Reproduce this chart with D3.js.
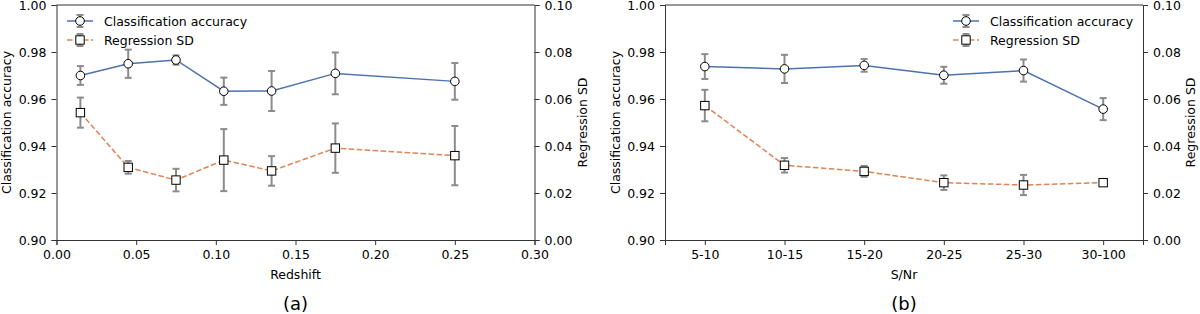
<!DOCTYPE html>
<html>
<head>
<meta charset="utf-8">
<script src="https://cdn.jsdelivr.net/npm/d3@7"></script>
<style>
  body { margin: 0; background: #fff; }
  svg { display: block; font-family: "DejaVu Sans", sans-serif; }
</style>
</head>
<body>
<svg id="chart" width="1200" height="314"></svg>
<script>
// panel (a): redshift bins
var redshift = [0.015, 0.045, 0.075, 0.105, 0.135, 0.175, 0.25]
var accA = [0.970, 0.975, 0.9766, 0.9633, 0.9634, 0.9709, 0.9675]
var accErrA = [0.004, 0.006, 0.002, 0.0058, 0.0085, 0.0089, 0.0078]
var sdA = [0.0542, 0.0309, 0.0255, 0.0340, 0.0294, 0.0391, 0.0359]
var sdErrA = [0.0064, 0.0027, 0.0048, 0.0132, 0.0063, 0.0105, 0.0126]

// panel (b): S/Nr bins
var snr = ["5-10", "10-15", "15-20", "20-25", "25-30", "30-100"]
var accB = [0.9738, 0.9728, 0.9743, 0.9701, 0.9721, 0.9557]
var accErrB = [0.0053, 0.006, 0.0027, 0.0036, 0.0047, 0.0047]
var sdB = [0.0572, 0.0318, 0.0292, 0.0244, 0.0234, 0.0244]
var sdErrB = [0.0067, 0.0031, 0.0023, 0.0031, 0.0043, 0.0005]

var xTicksA = [0, 0.05, 0.10, 0.15, 0.20, 0.25, 0.30]
var yTicks = [0.90, 0.92, 0.94, 0.96, 0.98, 1.00]
var y2Ticks = [0, 0.02, 0.04, 0.06, 0.08, 0.10]

var blue = "#4c72b0", orange = "#dd8452", errCol = "#8c8c8c", axCol = "#333"
var plotTop = 5, plotBottom = 240
var fs = 12.5

var svg = d3.select("#chart")

var panels = [
  {left: 56.5, right: 534.5, xs: redshift, acc: accA, accErr: accErrA, sd: sdA, sdErr: sdErrA,
   xDomain: [0, 0.3], xlabel: "Redshift", caption: "(a)", legendX: 67},
  {left: 665, right: 1143, xs: snr.map((d, i) => i), acc: accB, accErr: accErrB, sd: sdB, sdErr: sdErrB,
   xDomain: [-0.5, 5.5], xlabel: "S/Nr", caption: "(b)", legendX: 953, cats: snr}
]

panels.forEach(p => {
  var g = svg.append("g")
  var x = d3.scaleLinear().domain(p.xDomain).range([p.left, p.right])
  var y = d3.scaleLinear().domain([0.9, 1.0]).range([plotBottom, plotTop])
  var y2 = d3.scaleLinear().domain([0, 0.1]).range([plotBottom, plotTop])

  // axes
  var xAxis = p.cats
    ? d3.axisBottom(x).tickValues(p.xs).tickFormat(i => p.cats[i])
    : d3.axisBottom(x).tickValues(xTicksA).tickFormat(d3.format(".2f"))
  var axes = [
    g.append("g").attr("transform", `translate(0,${plotBottom})`).call(xAxis.tickSizeOuter(0).tickSize(5).tickPadding(5)),
    g.append("g").attr("transform", `translate(${p.left},0)`)
      .call(d3.axisLeft(y).tickValues(yTicks).tickFormat(d3.format(".2f")).tickSizeOuter(0).tickSize(5).tickPadding(5)),
    g.append("g").attr("transform", `translate(${p.right},0)`)
      .call(d3.axisRight(y2).tickValues(y2Ticks).tickFormat(d3.format(".2f")).tickSizeOuter(0).tickSize(5).tickPadding(5))
  ]
  axes.forEach(a => {
    a.selectAll("text").attr("font-size", fs).attr("fill", "#000").attr("font-family", "DejaVu Sans")
    a.selectAll("line").attr("stroke", axCol)
    a.select(".domain").attr("stroke", axCol)
  })
  // top spine
  g.append("line").attr("x1", p.left).attr("x2", p.right).attr("y1", plotTop).attr("y2", plotTop)
    .attr("stroke", axCol)

  // labels
  g.append("text").attr("x", (p.left + p.right) / 2).attr("y", 278.5)
    .attr("text-anchor", "middle").attr("font-size", fs).text(p.xlabel)
  g.append("text").attr("transform", `translate(${p.left - 45.5},${(plotTop + plotBottom) / 2}) rotate(-90)`)
    .attr("text-anchor", "middle").attr("font-size", fs).text("Classification accuracy")
  g.append("text").attr("transform", `translate(${p.right + 52},${(plotTop + plotBottom) / 2}) rotate(-90)`)
    .attr("text-anchor", "middle").attr("font-size", fs).text("Regression SD")
  g.append("text").attr("x", (p.left + p.right) / 2).attr("y", 310)
    .attr("text-anchor", "middle").attr("font-size", 18).text(p.caption)

  var series = [
    {vals: p.acc, errs: p.accErr, sc: y, color: blue, dash: null, shape: "circle"},
    {vals: p.sd, errs: p.sdErr, sc: y2, color: orange, dash: "5.5,2.5", shape: "square"}
  ]

  series.forEach(s => {
    // error bars
    var eb = g.append("g").attr("stroke", errCol).attr("stroke-width", 2)
    p.xs.forEach((xv, i) => {
      var cx = x(xv), y0 = s.sc(s.vals[i] - s.errs[i]), y1 = s.sc(s.vals[i] + s.errs[i])
      eb.append("line").attr("x1", cx).attr("x2", cx).attr("y1", y0).attr("y2", y1)
      eb.append("line").attr("x1", cx - 3.5).attr("x2", cx + 3.5).attr("y1", y0).attr("y2", y0)
      eb.append("line").attr("x1", cx - 3.5).attr("x2", cx + 3.5).attr("y1", y1).attr("y2", y1)
    })
  })
  series.forEach(s => {
    var line = d3.line().x((d, i) => x(p.xs[i])).y(d => s.sc(d))
    g.append("path").attr("d", line(s.vals)).attr("fill", "none")
      .attr("stroke", s.color).attr("stroke-width", 1.5)
      .attr("stroke-dasharray", s.dash)
  })
  series.forEach(s => {
    p.xs.forEach((xv, i) => drawMarker(g, s.shape, x(xv), s.sc(s.vals[i])))
  })

  // legend
  var names = ["Classification accuracy", "Regression SD"]
  series.forEach((s, k) => {
    var ly = 21 + k * 19, lx = p.legendX
    var lg = g.append("g")
    lg.append("line").attr("x1", lx).attr("x2", lx + 26).attr("y1", ly).attr("y2", ly)
      .attr("stroke", s.color).attr("stroke-width", 1.5).attr("stroke-dasharray", s.dash)
    var mx = lx + 13
    lg.append("line").attr("x1", mx).attr("x2", mx).attr("y1", ly - 6).attr("y2", ly + 6)
      .attr("stroke", errCol).attr("stroke-width", 2)
    ;[ly - 6, ly + 6].forEach(cy => lg.append("line").attr("x1", mx - 3.5).attr("x2", mx + 3.5)
      .attr("y1", cy).attr("y2", cy).attr("stroke", errCol).attr("stroke-width", 2))
    drawMarker(lg, s.shape, mx, ly)
    lg.append("text").attr("x", lx + 37).attr("y", ly + 4.5).attr("font-size", fs).text(names[k])
  })
})

function drawMarker(g, shape, cx, cy) {
  if (shape == "circle") {
    g.append("circle").attr("cx", cx).attr("cy", cy).attr("r", 4.3)
      .attr("fill", "#fff").attr("stroke", "#000").attr("stroke-width", 1)
  } else {
    g.append("rect").attr("x", cx - 4.2).attr("y", cy - 4.2).attr("width", 8.4).attr("height", 8.4)
      .attr("fill", "#fff").attr("stroke", "#000").attr("stroke-width", 1)
  }
}
</script>
</body>
</html>
